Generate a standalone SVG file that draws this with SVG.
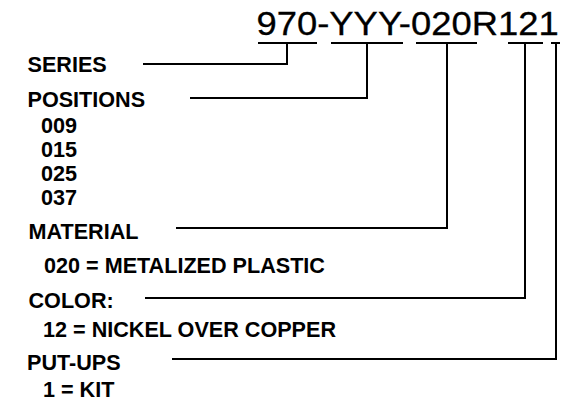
<svg xmlns="http://www.w3.org/2000/svg" width="571" height="408" viewBox="0 0 571 408">
<style>
.lbl{font-family:"Liberation Sans",Arial,sans-serif;font-weight:bold;font-size:21.6px;fill:#000}
.ttl{font-family:"Liberation Sans",Arial,sans-serif;font-size:32.5px;fill:#000;stroke:#000;stroke-width:0.3}
.ln{stroke:#000;stroke-width:2;fill:none}
</style>
<rect width="571" height="408" fill="#fff"/>
<g id="part-number">
<text class="ttl" transform="translate(256.5,35) scale(1.12,1)" x="0" y="0">970-YYY-020R121</text>
<line class="ln" x1="258" y1="43" x2="317" y2="43"/>
<line class="ln" x1="331" y1="43" x2="403" y2="43"/>
<line class="ln" x1="416" y1="43" x2="477" y2="43"/>
<line class="ln" x1="508" y1="43" x2="543" y2="43"/>
<line class="ln" x1="551" y1="43" x2="560" y2="43"/>
</g>
<g id="series"><text class="lbl" x="27.5" y="72">SERIES</text></g>
<g id="positions">
<text class="lbl" x="27.5" y="107">POSITIONS</text>
<text class="lbl" x="41" y="133">009</text>
<text class="lbl" x="41" y="157">015</text>
<text class="lbl" x="41" y="181">025</text>
<text class="lbl" x="41" y="205">037</text>
</g>
<g id="material">
<text class="lbl" x="28.5" y="239">MATERIAL</text>
<text class="lbl" x="44" y="273">020 = METALIZED PLASTIC</text>
</g>
<g id="color">
<text class="lbl" x="28.5" y="308">COLOR:</text>
<text class="lbl" x="43" y="337">12 = NICKEL OVER COPPER</text>
</g>
<g id="put-ups">
<text class="lbl" x="27" y="369.5">PUT-UPS</text>
<text class="lbl" x="43" y="397">1 = KIT</text>
</g>
<g id="connectors">
<polyline class="ln" points="143,64 287,64 287,43"/>
<polyline class="ln" points="190,98 367,98 367,43"/>
<polyline class="ln" points="176,228 447,228 447,43"/>
<polyline class="ln" points="145,298 525,298 525,43"/>
<polyline class="ln" points="172,359 556,359 556,43"/>
</g>
</svg>
